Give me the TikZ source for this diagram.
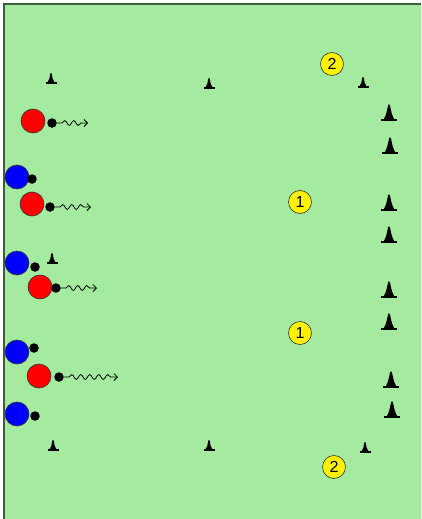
\documentclass[tikz,border=0pt]{standalone}
\usepackage{fontspec}
\setmainfont{Liberation Sans}
\usetikzlibrary{decorations.pathmorphing,arrows.meta}
\definecolor{field}{HTML}{A4EBA0}
\definecolor{edge}{HTML}{3E5E40}
\definecolor{ring}{HTML}{333333}
\tikzset{
  redp/.style={circle,fill=red,draw=ring,line width=0.6pt,minimum size=24pt,inner sep=0pt},
  bluep/.style={circle,fill=blue,draw=ring,line width=0.6pt,minimum size=24pt,inner sep=0pt},
  ball/.style={circle,fill=black,minimum size=9.5pt,inner sep=0pt},
  marker/.style={circle,fill=yellow,draw=ring,line width=0.6pt,minimum size=23pt,inner sep=0pt,font=\fontsize{16}{16}\selectfont},
  dribble/.style={-{Straight Barb[length=3.5pt,width=7pt]},line width=0.8pt,decorate,decoration={snake,amplitude=2.4pt,segment length=9pt,pre length=5pt,post length=3pt}},
  smallcone/.pic={\fill (-5.5,0) rectangle (5.5,-1.8);
    \fill (-3.4,-1.8) .. controls (-1.6,-5) .. (-0.8,-10) .. controls (0,-11.5) .. (0.8,-10) .. controls (1.6,-5) .. (3.4,-1.8) -- cycle;},
  bigcone/.pic={\fill (-8,0) rectangle (8,-2.2);
    \fill (-5,-2.2) .. controls (-2.7,-7) .. (-1.1,-15) .. controls (0,-17.5) .. (1.1,-15) .. controls (2.7,-7) .. (5,-2.2) -- cycle;}
}
\begin{document}
\begin{tikzpicture}[x=1pt,y=-1pt]
\useasboundingbox (0,0) rectangle (421,519);
\fill[field] (3,3) rectangle (421,519);
\draw[edge,line width=1.6pt] (3.8,519) -- (3.8,3.8) -- (421,3.8);
% small cones
\path (51,84) pic {smallcone} (209,89) pic {smallcone} (363,88) pic {smallcone}
      (52,264) pic {smallcone}
      (53,451) pic {smallcone} (209,451) pic {smallcone} (365,453) pic {smallcone};
% big cones
\path (389,121) pic {bigcone} (390,154) pic {bigcone}
      (389,211) pic {bigcone} (389,243) pic {bigcone}
      (389,298) pic {bigcone} (389,330) pic {bigcone}
      (391,388) pic {bigcone} (392,418) pic {bigcone};
% markers
\node[marker] (m1) at (332,64) {2};
\node[marker] (m2) at (300,202) {1};
\node[marker] (m3) at (300,333) {1};
\node[marker] (m4) at (334,467) {2};
% blue players and balls
\node[bluep] (b1) at (17,177) {};
\node[ball] (bb1) at (32,179) {};
\node[bluep] (b2) at (17,263) {};
\node[ball] (bb2) at (35,267) {};
\node[bluep] (b3) at (17,352) {};
\node[ball] (bb3) at (34,348) {};
\node[bluep] (b4) at (17,414) {};
\node[ball] (bb4) at (35,416) {};
% red players and balls
\node[redp] (r1) at (33,121) {};
\node[ball] (rb1) at (52,123) {};
\node[redp] (r2) at (32,204) {};
\node[ball] (rb2) at (50,207) {};
\node[redp] (r3) at (40,287) {};
\node[ball] (rb3) at (56,288) {};
\node[redp] (r4) at (39,376) {};
\node[ball] (rb4) at (59,377) {};
% dribble arrows
\coordinate (e1) at (88,123);
\coordinate (e2) at (91,207);
\coordinate (e3) at (97,288);
\coordinate (e4) at (118,377);
\draw[dribble] (rb1) -- (e1);
\draw[dribble] (rb2) -- (e2);
\draw[dribble] (rb3) -- (e3);
\draw[dribble] (rb4) -- (e4);
\end{tikzpicture}
\end{document}
